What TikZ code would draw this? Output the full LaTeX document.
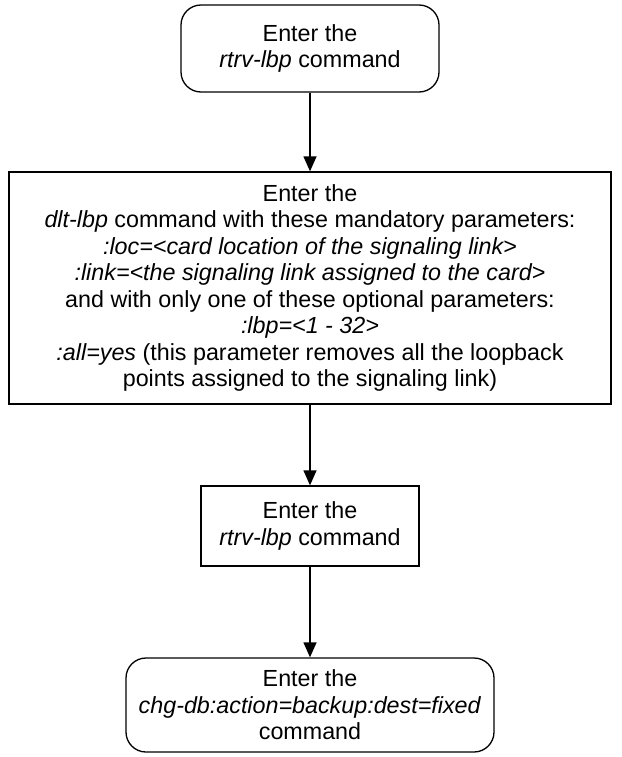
\documentclass[tikz,border=0pt]{standalone}
\usepackage{fontspec}
\setmainfont{Liberation Sans}
\usetikzlibrary{arrows.meta}
\tikzset{
  base/.style={draw=black, line width=1.3pt, align=center, inner sep=0pt,
    font=\fontsize{23.3}{26.5}\selectfont},
  roundbox/.style={base, rounded corners=20pt},
  rectbox/.style={base},
  flow/.style={line width=1.3pt, -{Triangle[length=15pt,width=13pt]}}
}
\begin{document}
\begin{tikzpicture}[x=1pt,y=-1pt]
\useasboundingbox (0,0) rectangle (621,757);
\node[roundbox, minimum width=258pt, minimum height=87pt] (a) at (310,48.5)
  {Enter the\\\textit{rtrv-lbp} command};
\node[rectbox, minimum width=602pt, minimum height=232pt] (b) at (310,288)
  {Enter the\\
   \textit{dlt-lbp} command with these mandatory parameters:\\
   \textit{:loc=<card location of the signaling link>}\\
   \textit{:link=<the signaling link assigned to the card>}\\
   and with only one of these optional parameters:\\
   \textit{:lbp=<1 - 32>}\\
   \textit{:all=yes} (this parameter removes all the loopback\\
   points assigned to the signaling link)};
\node[rectbox, minimum width=218pt, minimum height=80pt] (c) at (310,526)
  {Enter the\\\textit{rtrv-lbp} command};
\node[roundbox, minimum width=368pt, minimum height=94pt] (d) at (310,705)
  {Enter the\\\textit{chg-db:action=backup:dest=fixed}\\command};
\draw[flow] (a.south) -- (b.north);
\draw[flow] (b.south) -- (c.north);
\draw[flow] (c.south) -- (d.north);
\end{tikzpicture}
\end{document}
